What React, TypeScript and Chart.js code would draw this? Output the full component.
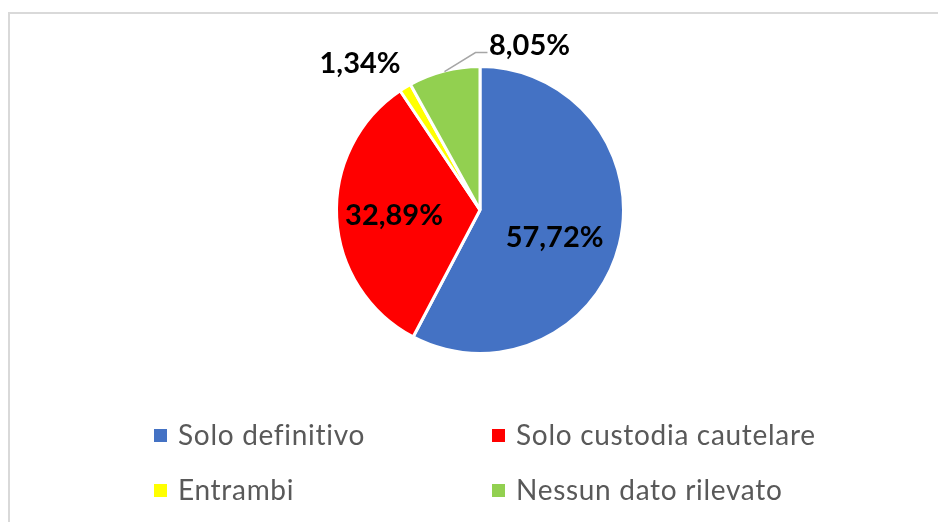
import React, { useEffect, useRef } from "react";
import { Chart, registerables } from "chart.js";

Chart.register(...registerables);

// ---- data ----
const categories = ["Solo definitivo", "Solo custodia cautelare", "Entrambi", "Nessun dato rilevato"];
const shares = [57.72, 32.89, 1.34, 8.05];
const sliceColors = ["#4472C4", "#FF0000", "#FFFF00", "#92D050"];

// ---- label layout (style, not data) ----
const labelPlacement = [
  { mode: "inside", frac: 0.6, dx: -9, dy: 6, leader: false },
  { mode: "inside", frac: 0.6, dx: 0, dy: 0, leader: false },
  { mode: "outside", dx: -46, dy: -26, leader: false },
  { mode: "outside", dx: 85, dy: -28, leader: true, elbow: [31, -20], end: [43, -20] },
];

const legendCols = [154, 492];
const legendRows = [436, 491];

const fmt = (v: number) => v.toFixed(2).replace(".", ",") + "%";

const framePlugin = {
  id: "frame",
  beforeDraw(chart: any) {
    const ctx = chart.ctx;
    ctx.save();
    ctx.fillStyle = "#ffffff";
    ctx.fillRect(0, 0, chart.width, chart.height);
    ctx.fillStyle = "#d9d9d9";
    ctx.fillRect(8, 12, 2, chart.height - 12);
    ctx.fillRect(8, 12, chart.width - 8, 2);
    ctx.restore();
  },
};

const labelPlugin = {
  id: "sliceLabels",
  afterDatasetsDraw(chart: any) {
    const ctx = chart.ctx;
    const meta = chart.getDatasetMeta(0);
    ctx.save();
    ctx.font = "bold 29px Lato";
    ctx.fillStyle = "#000000";
    ctx.textAlign = "center";
    ctx.textBaseline = "alphabetic";
    meta.data.forEach((arc: any, i: number) => {
      const p = arc.getProps(["x", "y", "startAngle", "endAngle", "outerRadius"], true);
      const mid = (p.startAngle + p.endAngle) / 2;
      const cfg: any = labelPlacement[i];
      const text = fmt(shares[i]);
      let lx: number, ly: number;
      if (cfg.mode === "inside") {
        const r = p.outerRadius * cfg.frac;
        lx = p.x + r * Math.cos(mid) + cfg.dx;
        ly = p.y + r * Math.sin(mid) + cfg.dy;
      } else {
        const r = p.outerRadius - 1.5;
        const ex = p.x + r * Math.cos(mid);
        const ey = p.y + r * Math.sin(mid);
        lx = ex + cfg.dx;
        ly = ey + cfg.dy;
        if (cfg.leader) {
          ctx.save();
          ctx.strokeStyle = "#a6a6a6";
          ctx.lineWidth = 1.5;
          ctx.beginPath();
          ctx.moveTo(ex, ey - 1);
          ctx.lineTo(ex + cfg.elbow[0], ey + cfg.elbow[1]);
          ctx.lineTo(ex + cfg.end[0], ey + cfg.end[1]);
          ctx.stroke();
          ctx.restore();
        }
      }
      ctx.fillText(text, lx, ly + 10);
    });
    ctx.restore();
  },
};

const legendPlugin = {
  id: "gridLegend",
  afterDraw(chart: any) {
    const ctx = chart.ctx;
    const labels = chart.data.labels as string[];
    const colors = chart.data.datasets[0].backgroundColor as string[];
    ctx.save();
    ctx.font = "28px Lato";
    try {
      (ctx as any).letterSpacing = "0.7px";
    } catch (e) {}
    ctx.textBaseline = "alphabetic";
    ctx.textAlign = "left";
    labels.forEach((lab, i) => {
      const cx = legendCols[i % 2];
      const cy = legendRows[Math.floor(i / 2)];
      ctx.fillStyle = colors[i];
      ctx.fillRect(cx, cy - 7, 13, 13);
      ctx.fillStyle = "#595959";
      ctx.fillText(lab, cx + 24, cy + 9);
    });
    ctx.restore();
  },
};

export default function App() {
  const ref = useRef<HTMLCanvasElement | null>(null);
  useEffect(() => {
    if (!ref.current) return;
    const chart = new Chart(ref.current, {
      type: "pie",
      data: {
        labels: categories,
        datasets: [
          {
            data: shares,
            backgroundColor: sliceColors,
            borderColor: "#ffffff",
            borderWidth: 3,
            hoverOffset: 0,
            offset: 0,
          },
        ],
      },
      options: {
        animation: false,
        responsive: false,
        maintainAspectRatio: false,
        layout: { padding: { left: 335, right: 313, top: 65, bottom: 167 } },
        plugins: {
          legend: { display: false },
          tooltip: { enabled: false },
        },
      },
      plugins: [framePlugin, labelPlugin, legendPlugin],
    });
    return () => chart.destroy();
  }, []);
  return (
    <div style={{ position: "fixed", left: 0, top: 0, width: 938, height: 522, background: "#fff" }}>
      <canvas ref={ref} width={938} height={522} style={{ display: "block", width: 938, height: 522 }} />
    </div>
  );
}
